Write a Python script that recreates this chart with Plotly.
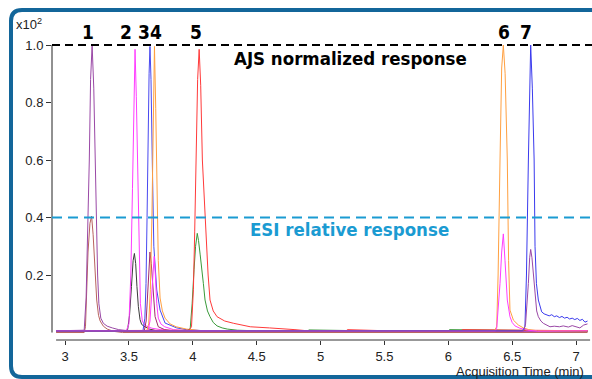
import plotly.graph_objects as go

# ---------------- data ----------------
# AJS traces (normalized response)
t_a1 = [2.93, 3.10, 3.15, 3.165, 3.18, 3.19, 3.20, 3.212, 3.225, 3.235, 3.242, 3.255, 3.265, 3.28, 3.30, 3.33, 3.37, 3.42, 3.50, 4.5, 5.5, 6.5, 7.09]
v_a1 = [0.006, 0.006, 0.008, 0.12, 0.38, 0.60, 0.88, 1.0, 0.85, 0.60, 0.40, 0.20, 0.10, 0.05, 0.032, 0.022, 0.016, 0.010, 0.006, 0.006, 0.005, 0.006, 0.006]

t_a2 = [2.93, 3.48, 3.50, 3.515, 3.528, 3.537, 3.548, 3.558, 3.568, 3.578, 3.59, 3.605, 3.625, 3.65, 3.68, 3.75, 3.85, 5.0, 6.0, 7.09]
v_a2 = [0.005, 0.006, 0.03, 0.20, 0.50, 0.80, 0.985, 0.82, 0.58, 0.30, 0.10, 0.04, 0.025, 0.02, 0.015, 0.010, 0.006, 0.006, 0.005, 0.005]

t_a3 = [2.93, 3.61, 3.625, 3.634, 3.642, 3.65, 3.658, 3.665, 3.673, 3.683, 3.695, 3.718, 3.744, 3.783, 3.874, 3.95, 4.10, 5.5, 7.09]
v_a3 = [0.005, 0.006, 0.05, 0.17, 0.40, 0.68, 0.90, 0.995, 0.88, 0.60, 0.30, 0.148, 0.078, 0.033, 0.016, 0.010, 0.006, 0.006, 0.005]

t_a4 = [2.93, 3.64, 3.655, 3.668, 3.68, 3.69, 3.70, 3.71, 3.72, 3.73, 3.744, 3.762, 3.783, 3.822, 3.87, 3.95, 4.05, 5.5, 7.09]
v_a4 = [0.005, 0.006, 0.03, 0.15, 0.40, 0.70, 0.995, 0.78, 0.45, 0.25, 0.12, 0.075, 0.05, 0.03, 0.02, 0.012, 0.007, 0.006, 0.006]

t_a5 = [2.93, 3.97, 3.99, 4.005, 4.015, 4.025, 4.038, 4.05, 4.062, 4.075, 4.096, 4.12, 4.135, 4.16, 4.19, 4.25, 4.32, 4.45, 4.6, 4.7, 4.8, 4.9, 5.2, 5.21, 5.6, 6.1, 6.11, 7.09]
v_a5 = [0.006, 0.008, 0.02, 0.15, 0.35, 0.60, 0.88, 0.985, 0.86, 0.60, 0.40, 0.20, 0.113, 0.075, 0.055, 0.04, 0.032, 0.02, 0.016, 0.014, 0.010, 0.006, 0.006, 0.010, 0.005, 0.006, 0.010, 0.006]

t_a6 = [2.93, 6.36, 6.379, 6.39, 6.405, 6.418, 6.431, 6.445, 6.462, 6.472, 6.483, 6.51, 6.549, 6.588, 6.63, 6.70, 7.09]
v_a6 = [0.005, 0.006, 0.02, 0.20, 0.60, 0.92, 1.0, 0.90, 0.60, 0.25, 0.078, 0.043, 0.026, 0.016, 0.010, 0.006, 0.006]

t_a7 = [2.93, 6.58, 6.60, 6.612, 6.627, 6.637, 6.645, 6.658, 6.672, 6.679, 6.69, 6.705, 6.72, 6.731, 6.75, 6.77, 6.79, 6.81, 6.83, 6.849, 6.87, 6.89, 6.91, 6.93, 6.95, 6.97, 6.99, 7.01, 7.03, 7.05, 7.07, 7.09]
v_a7 = [0.005, 0.006, 0.02, 0.20, 0.60, 0.90, 1.0, 0.85, 0.60, 0.30, 0.17, 0.113, 0.085, 0.072, 0.065, 0.061, 0.058, 0.062, 0.055, 0.058, 0.052, 0.056, 0.050, 0.053, 0.047, 0.050, 0.045, 0.049, 0.042, 0.046, 0.036, 0.040]

# ESI traces (relative response)
t_e1 = [2.93, 3.15, 3.16, 3.17, 3.18, 3.195, 3.208, 3.22, 3.235, 3.248, 3.262, 3.275, 3.30, 3.33, 3.38, 3.45, 7.09]
v_e1 = [0.0, 0.0, 0.02, 0.15, 0.28, 0.38, 0.405, 0.34, 0.23, 0.113, 0.06, 0.04, 0.022, 0.012, 0.004, 0.0, 0.0]

t_e2 = [2.93, 3.47, 3.49, 3.505, 3.52, 3.533, 3.543, 3.553, 3.563, 3.574, 3.587, 3.60, 3.626, 3.66, 3.72, 7.09]
v_e2 = [0.005, 0.005, 0.01, 0.06, 0.16, 0.25, 0.275, 0.24, 0.16, 0.09, 0.045, 0.028, 0.02, 0.012, 0.006, 0.005]

t_e3 = [2.93, 3.62, 3.635, 3.645, 3.655, 3.665, 3.675, 3.686, 3.695, 3.705, 3.73, 3.78, 3.85, 7.09]
v_e3 = [0.004, 0.005, 0.04, 0.13, 0.22, 0.28, 0.24, 0.17, 0.10, 0.055, 0.02, 0.010, 0.006, 0.004]

t_e4 = [2.93, 3.65, 3.665, 3.68, 3.69, 3.698, 3.707, 3.718, 3.73, 3.75, 3.78, 3.85, 3.95, 7.09]
v_e4 = [0.006, 0.005, 0.04, 0.15, 0.23, 0.265, 0.20, 0.10, 0.05, 0.03, 0.02, 0.010, 0.006, 0.006]

t_e5 = [2.93, 3.96, 3.98, 3.995, 4.01, 4.022, 4.035, 4.045, 4.058, 4.07, 4.083, 4.096, 4.115, 4.135, 4.16, 4.19, 4.23, 4.27, 4.35, 4.5, 4.9, 4.91, 5.5, 6.0, 6.01, 7.09]
v_e5 = [0.005, 0.006, 0.015, 0.10, 0.22, 0.30, 0.345, 0.32, 0.27, 0.229, 0.17, 0.113, 0.075, 0.055, 0.035, 0.023, 0.016, 0.012, 0.008, 0.006, 0.006, 0.009, 0.005, 0.006, 0.010, 0.005]

t_e6 = [2.93, 6.37, 6.379, 6.392, 6.405, 6.418, 6.431, 6.444, 6.462, 6.483, 6.50, 6.522, 6.56, 6.62, 6.70, 7.09]
v_e6 = [0.006, 0.005, 0.015, 0.08, 0.171, 0.28, 0.343, 0.25, 0.113, 0.055, 0.035, 0.023, 0.015, 0.008, 0.005, 0.006]

t_e7 = [2.93, 6.59, 6.605, 6.614, 6.627, 6.637, 6.645, 6.655, 6.666, 6.679, 6.692, 6.705, 6.725, 6.744, 6.77, 6.796, 6.83, 6.87, 6.90, 6.94, 6.97, 7.00, 7.03, 7.06, 7.09]
v_e7 = [0.005, 0.005, 0.03, 0.078, 0.171, 0.26, 0.289, 0.26, 0.206, 0.113, 0.075, 0.055, 0.04, 0.032, 0.025, 0.02, 0.022, 0.02, 0.023, 0.019, 0.024, 0.02, 0.016, 0.026, 0.03]

peak_labels = ["1", "2", "3", "4", "5", "6", "7"]
peak_times = [3.21, 3.55, 3.665, 3.70, 4.05, 6.43, 6.645]

x_ticks = [3, 3.5, 4, 4.5, 5, 5.5, 6, 6.5, 7]
x_ticktext = ["3", "3.5", "4", "4.5", "5", "5.5", "6", "6.5", "7"]
y_ticks = [0.2, 0.4, 0.6, 0.8, 1.0]
y_ticktext = ["0.2", "0.4", "0.6", "0.8", "1.0"]

ajs_level = 1.0
esi_level = 0.4

# ---------------- figure ----------------
W, H = 592, 379
L, R, T, B = 52, 0, 40, 39
PW, PH = W - L - R, H - T - B

def px(x):
    return (x - L) / PW

def py(y):
    return (H - B - y) / PH

series = [
    (t_e1, v_e1, "#b8625e"),
    (t_a1, v_a1, "#9a48a6"),
    (t_e2, v_e2, "#3a3a3a"),
    (t_a2, v_a2, "#ff3cff"),
    (t_e3, v_e3, "#a02a6a"),
    (t_a3, v_a3, "#4848f0"),
    (t_a4, v_a4, "#ffa040"),
    (t_e4, v_e4, "#ff3cff"),
    (t_e5, v_e5, "#3a9a3a"),
    (t_a5, v_a5, "#ff3a3a"),
    (t_a6, v_a6, "#ffa040"),
    (t_e6, v_e6, "#ff3cff"),
    (t_a7, v_a7, "#3a3aee"),
    (t_e7, v_e7, "#9a48a6"),
]

fig = go.Figure()
for t, v, c in series:
    fig.add_trace(go.Scatter(x=t, y=v, mode="lines", line=dict(color=c, width=1),
                             showlegend=False, hoverinfo="skip"))

x_min = 2.898
x_max = 7.125
y_min = -0.026
y_max = 1.0174

fig.update_layout(
    width=W, height=H,
    margin=dict(l=L, r=R, t=T, b=B, pad=0),
    paper_bgcolor="white", plot_bgcolor="white",
    showlegend=False,
    font=dict(family="Liberation Sans, Arial, sans-serif", size=13, color="#222"),
    xaxis=dict(range=[x_min, x_max], tickvals=x_ticks, ticktext=x_ticktext,
               ticks="outside", ticklen=4, tickcolor="#333", showline=False,
               showgrid=False, zeroline=False, tickfont=dict(size=13, color="#222")),
    yaxis=dict(range=[y_min, y_max], tickvals=y_ticks, ticktext=y_ticktext,
               ticks="outside", ticklen=5, tickcolor="#333", showline=False,
               showgrid=False, zeroline=False, tickfont=dict(size=13, color="#222")),
)

# axis lines
fig.add_shape(type="line", xref="paper", yref="y", x0=0, x1=0, y0=0.0, y1=ajs_level,
              line=dict(color="#222", width=1))
fig.add_shape(type="line", xref="x", yref="paper", x0=2.93, x1=7.11, y0=0, y1=0,
              line=dict(color="#333", width=1))

# reference dashed lines
fig.add_shape(type="line", xref="paper", yref="y", x0=0, x1=1, y0=ajs_level, y1=ajs_level,
              line=dict(color="black", width=2, dash="8px,5px"))
fig.add_shape(type="line", xref="paper", yref="y", x0=0, x1=1, y0=esi_level, y1=esi_level,
              line=dict(color="#1b9bd2", width=2, dash="10px,6px"))

# rounded frame (left part with corners, plus top and bottom edges running off the right)
frame_color = "#13669a"
fx0, fy0, fy1, fr = 11, 10, 377, 11
frame = (f"M {px(40)},{py(fy0)} L {px(fx0 + fr)},{py(fy0)} "
         f"Q {px(fx0)},{py(fy0)} {px(fx0)},{py(fy0 + fr)} "
         f"L {px(fx0)},{py(fy1 - fr)} "
         f"Q {px(fx0)},{py(fy1)} {px(fx0 + fr)},{py(fy1)} "
         f"L {px(40)},{py(fy1)}")
fig.add_shape(type="path", xref="paper", yref="paper", path=frame,
              line=dict(color=frame_color, width=4))
for yy in (fy0, fy1):
    fig.add_shape(type="line", xref="paper", yref="paper", x0=px(38), x1=px(600),
                  y0=py(yy), y1=py(yy), line=dict(color=frame_color, width=4))

bold_font = "DejaVu Sans Condensed, Liberation Sans Narrow, Arial Narrow, sans-serif"
label_shift = [-4, -9, -6, 2, -3, 1, -5]
for lab, tm, sh in zip(peak_labels, peak_times, label_shift):
    fig.add_annotation(x=tm, y=py(31.5), xref="x", yref="paper", text=f"<b>{lab}</b>",
                       xanchor="center", yanchor="middle",
                       showarrow=False, xshift=sh, font=dict(family=bold_font, size=19, color="black"))

fig.add_annotation(x=px(350), y=py(58), xref="paper", yref="paper",
                   xanchor="center", yanchor="middle",
                   text="<b>AJS normalized response</b>", showarrow=False,
                   font=dict(family=bold_font, size=18.5, color="black"))
fig.add_annotation(x=px(349), y=py(229), xref="paper", yref="paper",
                   xanchor="center", yanchor="middle",
                   text="<b>ESI relative response</b>", showarrow=False,
                   font=dict(family=bold_font, size=18.5, color="#1b9bd2"))
fig.add_annotation(x=px(586), y=py(371), xref="paper", yref="paper",
                   xanchor="right", yanchor="middle",
                   text="Acquisition Time (min)", showarrow=False,
                   font=dict(size=13, color="#222"))
fig.add_annotation(x=px(14), y=py(24), xref="paper", yref="paper",
                   xanchor="left", yanchor="middle",
                   text="x10<sup>2</sup>", showarrow=False,
                   font=dict(size=13, color="#222"))

fig.write_html("out.html",
               config={"displayModeBar": False},
               post_script="document.body.style.margin='0';document.body.style.overflow='hidden';")
